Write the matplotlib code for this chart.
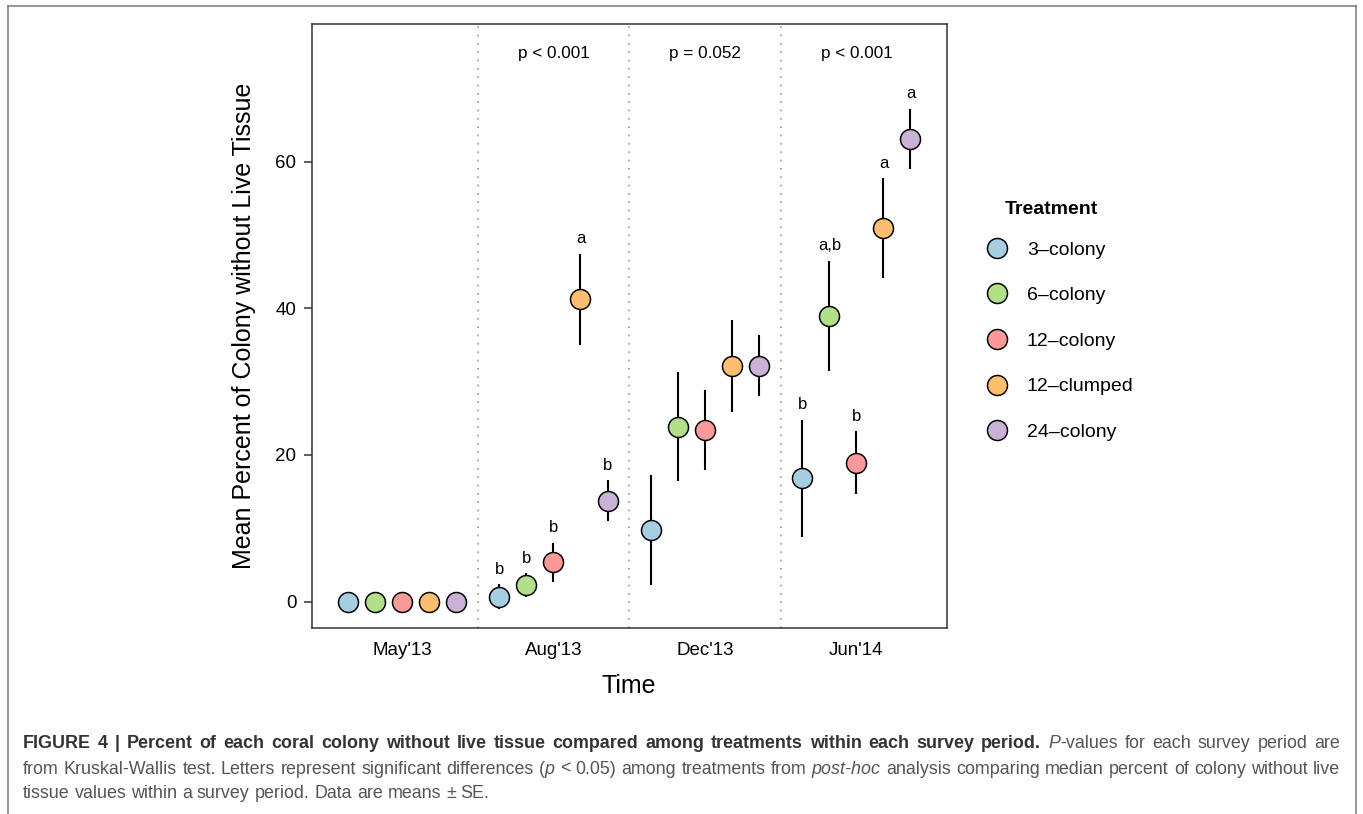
import numpy as np
import matplotlib
matplotlib.use('Agg')
import matplotlib.pyplot as plt
from matplotlib.lines import Line2D

plt.rcParams['font.family'] = ['Liberation Sans', 'DejaVu Sans']

W, H = 1363, 814

periods = ["May'13", "Aug'13", "Dec'13", "Jun'14"]
treatments = ['3–colony', '6–colony', '12–colony', '12–clumped', '24–colony']
colors = ['#A6CEE3', '#B2DF8A', '#FB9A99', '#FDBF6F', '#CAB2D6']

# means and standard errors, one value per survey period
mean_3col = [0, 0.68, 9.78, 16.82]
se_3col = [0, 1.70, 7.55, 7.95]
mean_6col = [0, 2.28, 23.86, 38.95]
se_6col = [0, 1.60, 7.45, 7.55]
mean_12col = [0, 5.37, 23.40, 18.95]
se_12col = [0, 2.65, 5.40, 4.30]
mean_12clump = [0, 41.23, 32.17, 50.95]
se_12clump = [0, 6.20, 6.30, 6.80]
mean_24col = [0, 13.77, 32.17, 63.08]
se_24col = [0, 2.80, 4.15, 4.15]

means = [mean_3col, mean_6col, mean_12col, mean_12clump, mean_24col]
ses = [se_3col, se_6col, se_12col, se_12clump, se_24col]

# post-hoc letters per period (treatment order) and Kruskal-Wallis p-values
letters = [
    ['', '', '', '', ''],
    ['b', 'b', 'b', 'a', 'b'],
    ['', '', '', '', ''],
    ['b', 'a,b', 'b', 'a', 'a'],
]
p_labels = ['', 'p < 0.001', 'p = 0.052', 'p < 0.001']

caption = [
    [("FIGURE 4 | Percent of each coral colony without live tissue compared among "
      "treatments within each survey period.", 'b'), (" ", 'r'), ("P", 'i'),
     ("-values for each survey period are", 'r')],
    [("from Kruskal-Wallis test. Letters represent significant differences (", 'r'),
     ("p", 'i'), (" < 0.05) among treatments from ", 'r'), ("post-hoc", 'i'),
     (" analysis comparing median percent of colony without live", 'r')],
    [("tissue values within a survey period. Data are means ± SE.", 'r')],
]


def fx(x):
    return x / W


def fy(y):
    return 1 - y / H


fig = plt.figure(figsize=(W / 100, H / 100), dpi=100)
ax = fig.add_axes([fx(311.7), fy(628), (946.7 - 311.7) / W, (628 - 24) / H])

x_base = np.arange(1, len(periods) + 1)
offsets = np.linspace(-0.357, 0.357, len(treatments))

for i, name in enumerate(treatments):
    xs = x_base + offsets[i]
    ax.errorbar(xs, means[i], yerr=ses[i], fmt='o', ms=14.4, mfc=colors[i],
                mec='black', mew=1.1, ecolor='black', elinewidth=1.5,
                capsize=0, zorder=3)
    for j in range(len(periods)):
        if letters[j][i]:
            ax.annotate(letters[j][i], (xs[j], means[i][j] + ses[i][j]),
                        xytext=(0, 10.8), textcoords='offset points',
                        ha='center', va='center', fontsize=12)

for b in [1.5, 2.5, 3.5]:
    ax.axvline(b, color='#9a9a9a', lw=1.2, linestyle=(0, (1, 4)), zorder=1)

for j, p in enumerate(p_labels):
    if p:
        ax.text(x_base[j], 0.951, p, transform=ax.get_xaxis_transform(),
                ha='center', va='center', fontsize=12.3)

ax.set_xlim(0.404, 4.596)
ax.set_ylim(-3.59, 78.76)
ax.set_xticks(x_base)
ax.set_xticklabels(periods)
ax.set_yticks([0, 20, 40, 60])
ax.tick_params(axis='x', length=0, pad=10, labelsize=13.5)
ax.tick_params(axis='y', length=6, width=1.1, pad=5, labelsize=13.5, color='#333333')
for s in ax.spines.values():
    s.set_linewidth(1.1)
    s.set_color('#333333')

ax.set_ylabel('Mean Percent of Colony without Live Tissue', fontsize=18)
ax.yaxis.set_label_coords(-0.106, 0.5)
ax.yaxis.label.set_va('center')
ax.set_xlabel('Time', fontsize=18)
ax.xaxis.set_label_coords(0.5, -0.096)
ax.xaxis.label.set_va('center')

# legend
handles = [Line2D([], [], ls='none', marker='o', ms=14.4, mfc=c, mec='black', mew=1.1)
           for c in colors]
fig.legend(handles, treatments, loc='upper left',
           bbox_to_anchor=(fx(987.3), fy(241)), bbox_transform=fig.transFigure,
           frameon=False, fontsize=14, handlelength=1.0, handletextpad=1.04,
           labelspacing=1.44, borderpad=0, borderaxespad=0)
fig.text(fx(1005), fy(210), 'Treatment', fontsize=14, weight='bold',
         ha='left', va='center')

# outer frame (open at the bottom)
frame_kw = dict(color='#777777', lw=1.1, transform=fig.transFigure)
fig.add_artist(Line2D([fx(8), fx(8)], [fy(6), 0], **frame_kw))
fig.add_artist(Line2D([fx(8), fx(1356)], [fy(6), fy(6)], **frame_kw))
fig.add_artist(Line2D([fx(1356), fx(1356)], [fy(6), 0], **frame_kw))

# justified caption
cap_family = ['Liberation Sans Narrow', 'Liberation Sans']
styles = {'b': dict(weight='bold', color='#333333', family=cap_family),
          'r': dict(color='#555555', family=cap_family),
          'i': dict(style='italic', color='#555555', family=cap_family)}
renderer = fig.canvas.get_renderer()


def text_width(s, st, size):
    t = fig.text(0, 0, s, fontsize=size, **styles[st])
    w = t.get_window_extent(renderer).width
    t.remove()
    return w


def split_words(runs):
    words = [[]]
    for text, st in runs:
        parts = text.split(' ')
        for k, part in enumerate(parts):
            if k > 0:
                words.append([])
            if part:
                words[-1].append((part, st))
    return [w for w in words if w]


cap_x0, cap_x1 = 23, 1340
baselines = [748, 773.5, 798]
base_size = 14
lines = [split_words(r) for r in caption]
space = text_width('a a', 'r', base_size) - text_width('aa', 'r', base_size)
scale = 1.0
for words in lines[:2]:
    natural = sum(text_width(s, st, base_size) for w in words for s, st in w)
    natural += space * (len(words) - 1)
    scale = min(scale, (cap_x1 - cap_x0) / natural)
size = base_size * scale

for li, words in enumerate(lines):
    widths = [[text_width(s, st, size) for s, st in w] for w in words]
    total = sum(sum(w) for w in widths)
    if li < 2:
        gap = (cap_x1 - cap_x0 - total) / (len(words) - 1)
    else:
        gap = space * scale
    x = cap_x0
    for w, ws in zip(words, widths):
        for (s, st), sw in zip(w, ws):
            fig.text(fx(x), fy(baselines[li]), s, fontsize=size, ha='left',
                     va='baseline', **styles[st])
            x += sw
        x += gap

fig.savefig('out.png', dpi=100)
